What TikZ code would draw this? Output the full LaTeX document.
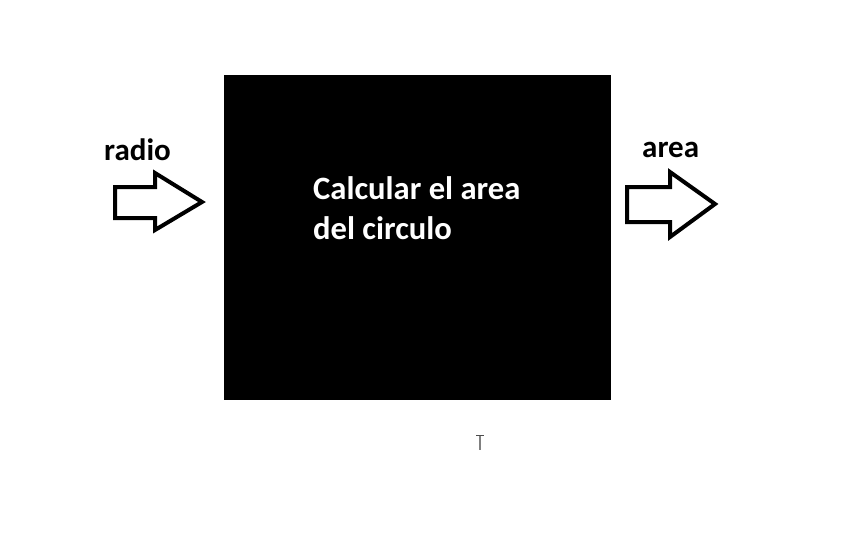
\documentclass[tikz,border=0pt]{standalone}
\usepackage{fontspec}
\setmainfont{Carlito}
\begin{document}
\begin{tikzpicture}[x=1pt,y=-1pt,
  lbl/.style={inner sep=0pt,anchor=base west,font=\bfseries\fontsize{31}{37}\selectfont,text=black},
  inner/.style={inner sep=0pt,anchor=base west,font=\bfseries\fontsize{32.6}{40}\selectfont,text=white,align=left},
  blockarrow/.style={draw=black,line width=4pt,line join=miter,fill=white}]
\useasboundingbox[fill=white] (0,0) rectangle (864,551);
\node[fill=black,inner sep=0pt,minimum width=387pt,minimum height=325pt,anchor=north west] (box) at (224,75) {};
\node[inner] (t1) at (313,199) {Calcular el area};
\node[inner] (t2) at (313,239) {del circulo};
\node[lbl] (radio) at (104,160) {radio};
\node[lbl] (area) at (642,157) {area};
\draw[blockarrow] (115,187) -- (155,187) -- (155,173) -- (202,202) -- (155,230) -- (155,218) -- (115,218) -- cycle;
\draw[blockarrow] (627,187) -- (670,187) -- (670,172) -- (715,204) -- (670,237) -- (670,222) -- (627,222) -- cycle;
\draw[gray,line width=1.2pt] (480,436) -- (480,450);
\draw[black!70,line width=1.2pt] (476,435.5) -- (484,435.5);
\end{tikzpicture}
\end{document}
